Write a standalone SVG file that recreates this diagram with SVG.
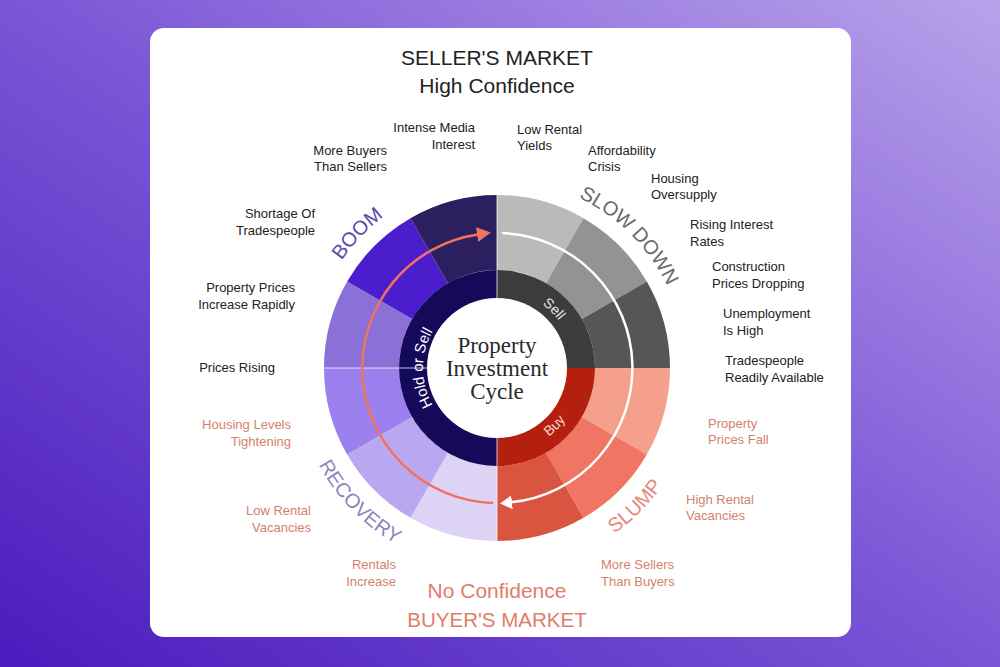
<svg xmlns="http://www.w3.org/2000/svg" width="1000" height="667" viewBox="0 0 1000 667">
<defs>
<linearGradient id="bg" x1="0" y1="1" x2="1" y2="0">
<stop offset="0" stop-color="#4a1bbd"/>
<stop offset="0.5" stop-color="#7a55d6"/>
<stop offset="1" stop-color="#b9a2ea"/>
</linearGradient>
<marker id="ahW" markerWidth="12" markerHeight="14" refX="1" refY="7" orient="auto" markerUnits="userSpaceOnUse"><path d="M0,0 L12,7 L0,14 Z" fill="#ffffff"/></marker>
<marker id="ahC" markerWidth="14" markerHeight="15" refX="1" refY="7.5" orient="auto" markerUnits="userSpaceOnUse"><path d="M0,0 L14,7.5 L0,15 Z" fill="#ee7462"/></marker>
<path id="cwIn" d="M497,446 A78,78 0 0 1 497,290 A78,78 0 0 1 497,446"/>
<path id="cwHold" d="M497,442 A74,74 0 0 1 497,294 A74,74 0 0 1 497,442"/>
<path id="ccwBuy" d="M497,282 A86,86 0 0 0 497,454 A86,86 0 0 0 497,282"/>
<path id="cwOut" d="M497,557 A189,189 0 0 1 497,179 A189,189 0 0 1 497,557"/>
<path id="ccwOut" d="M497,165 A203,203 0 0 0 497,571 A203,203 0 0 0 497,165"/>
<style>
.lbl{font-family:"Liberation Sans",Arial,sans-serif;font-size:13px}
.dk{fill:#222222}
.sa{fill:#d6806e}
.ttl{font-family:"Liberation Sans",Arial,sans-serif;font-size:21px}
.quad{font-family:"Liberation Sans",Arial,sans-serif;font-size:20px}
.ring{font-family:"Liberation Sans",Arial,sans-serif;font-size:14px}
.sep{stroke:#ffffff;stroke-width:1;stroke-opacity:0.75}
</style>
</defs>
<rect x="0" y="0" width="1000" height="667" fill="url(#bg)"/>
<rect id="card" x="150" y="28" width="701" height="609" rx="14" fill="#ffffff"/>

<g id="titles">
<text class="ttl" x="497" y="65" text-anchor="middle" fill="#222">SELLER'S MARKET</text>
<text class="ttl" x="497" y="93" text-anchor="middle" fill="#222">High Confidence</text>
<text class="ttl" x="497" y="598" text-anchor="middle" fill="#e07d69">No Confidence</text>
<text class="ttl" x="497" y="627" text-anchor="middle" fill="#e07d69" style="font-size:20.5px">BUYER'S MARKET</text>
</g>

<g id="wheel-outer">
<path id="seg-slow1" d="M497,195 A173,173 0 0 1 583.5,218.18 L546,283.13 A98,98 0 0 0 497,270 Z" fill="#bababa"/>
<path id="seg-slow2" d="M583.5,218.18 A173,173 0 0 1 646.82,281.5 L581.87,319 A98,98 0 0 0 546,283.13 Z" fill="#939393"/>
<path id="seg-slow3" d="M646.82,281.5 A173,173 0 0 1 670,368 L595,368 A98,98 0 0 0 581.87,319 Z" fill="#565656"/>
<path id="seg-slump1" d="M670,368 A173,173 0 0 1 646.82,454.5 L581.87,417 A98,98 0 0 0 595,368 Z" fill="#f4a08c"/>
<path id="seg-slump2" d="M646.82,454.5 A173,173 0 0 1 583.5,517.82 L546,452.87 A98,98 0 0 0 581.87,417 Z" fill="#f07562"/>
<path id="seg-slump3" d="M583.5,517.82 A173,173 0 0 1 497,541 L497,466 A98,98 0 0 0 546,452.87 Z" fill="#d9553f"/>
<path id="seg-rec1" d="M497,541 A173,173 0 0 1 410.5,517.82 L448,452.87 A98,98 0 0 0 497,466 Z" fill="#ddd4f5"/>
<path id="seg-rec2" d="M410.5,517.82 A173,173 0 0 1 347.18,454.5 L412.13,417 A98,98 0 0 0 448,452.87 Z" fill="#b9a8f0"/>
<path id="seg-rec3" d="M347.18,454.5 A173,173 0 0 1 324,368 L399,368 A98,98 0 0 0 412.13,417 Z" fill="#9b80ee"/>
<path id="seg-boom1" d="M324,368 A173,173 0 0 1 347.18,281.5 L412.13,319 A98,98 0 0 0 399,368 Z" fill="#8a70d7"/>
<path id="seg-boom2" d="M347.18,281.5 A173,173 0 0 1 410.5,218.18 L448,283.13 A98,98 0 0 0 412.13,319 Z" fill="#4b1dcc"/>
<path id="seg-boom3" d="M410.5,218.18 A173,173 0 0 1 497,195 L497,270 A98,98 0 0 0 448,283.13 Z" fill="#2b1f5f"/>
</g>

<g id="wheel-inner">
<path id="ring-sell" d="M497,368 L497,270 A98,98 0 0 1 595,368 Z" fill="#3c3c3c"/>
<path id="ring-buy" d="M497,368 L595,368 A98,98 0 0 1 497,466 Z" fill="#b41f0e"/>
<path id="ring-hold" d="M497,368 L497,466 A98,98 0 0 1 497,270 Z" fill="#150a5a"/>
<line class="sep" x1="497" y1="195" x2="497" y2="300"/>
<line class="sep" x1="497" y1="436" x2="497" y2="541"/>
<line class="sep" x1="324" y1="368" x2="429" y2="368"/>
<circle cx="497" cy="368" r="70" fill="#ffffff"/>
<text class="ring" fill="#e6e6e6"><textPath href="#cwIn" startOffset="62.2%" text-anchor="middle">Sell</textPath></text>
<text class="ring" fill="#f7d2ca"><textPath href="#ccwBuy" startOffset="62.5%" text-anchor="middle">Buy</textPath></text>
<text class="ring" fill="#ffffff" style="font-size:15px"><textPath href="#cwHold" startOffset="25%" text-anchor="middle">Hold or Sell</textPath></text>
</g>

<g id="center">
<text x="497" y="353" text-anchor="middle" font-family="'Liberation Serif',serif" font-size="23" fill="#2a2a2a">Property</text>
<text x="497" y="376" text-anchor="middle" font-family="'Liberation Serif',serif" font-size="23" fill="#2a2a2a">Investment</text>
<text x="497" y="399" text-anchor="middle" font-family="'Liberation Serif',serif" font-size="23" fill="#2a2a2a">Cycle</text>
</g>

<g id="connectors" fill="none" stroke-width="2.5" stroke-linecap="round">
<path id="arrow-sell-buy" d="M503,233.1 A135,135 0 0 1 511,502.3" stroke="#ffffff" marker-end="url(#ahW)"/>
<path id="arrow-buy-hold" d="M492,502.9 A135,135 0 0 1 478,234.4" stroke="#ee7462" marker-end="url(#ahC)"/>
</g>

<g id="quadrant-labels">
<text class="quad" fill="#5b4aa6"><textPath href="#cwOut" startOffset="37.2%" text-anchor="middle">BOOM</textPath></text>
<text class="quad" fill="#6a6a6a"><textPath href="#cwOut" startOffset="59.6%" text-anchor="middle">SLOW</textPath></text>
<text class="quad" fill="#6a6a6a"><textPath href="#cwOut" startOffset="65.2%" text-anchor="middle">DOWN</textPath></text>
<text class="quad" fill="#e28b7a"><textPath href="#ccwOut" startOffset="62.5%" text-anchor="middle">SLUMP</textPath></text>
<text class="quad" fill="#8c84c0"><textPath href="#ccwOut" startOffset="37.3%" text-anchor="middle">RECOVERY</textPath></text>
</g>

<g id="factor-labels">
<g id="f-media" class="lbl dk" text-anchor="end"><text x="475" y="132">Intense Media</text><text x="475" y="149">Interest</text></g>
<g id="f-yields" class="lbl dk"><text x="517" y="134">Low Rental</text><text x="517" y="150">Yields</text></g>
<g id="f-buyers" class="lbl dk" text-anchor="end"><text x="387" y="155">More Buyers</text><text x="387" y="171">Than Sellers</text></g>
<g id="f-afford" class="lbl dk"><text x="588" y="155">Affordability</text><text x="588" y="171">Crisis</text></g>
<g id="f-oversupply" class="lbl dk"><text x="651" y="183">Housing</text><text x="651" y="199">Oversupply</text></g>
<g id="f-shortage" class="lbl dk" text-anchor="end"><text x="315" y="218">Shortage Of</text><text x="315" y="235">Tradespeople</text></g>
<g id="f-rates" class="lbl dk"><text x="690" y="229">Rising Interest</text><text x="690" y="246">Rates</text></g>
<g id="f-rapid" class="lbl dk" text-anchor="end"><text x="295" y="292">Property Prices</text><text x="295" y="309">Increase Rapidly</text></g>
<g id="f-construction" class="lbl dk"><text x="712" y="271">Construction</text><text x="712" y="288">Prices Dropping</text></g>
<g id="f-rising" class="lbl dk" text-anchor="end"><text x="275" y="372">Prices Rising</text></g>
<g id="f-unemployment" class="lbl dk"><text x="723" y="318">Unemployment</text><text x="723" y="335">Is High</text></g>
<g id="f-trades" class="lbl dk"><text x="725" y="365">Tradespeople</text><text x="725" y="382">Readily Available</text></g>
<g id="f-tightening" class="lbl sa" text-anchor="end"><text x="291" y="429">Housing Levels</text><text x="291" y="446">Tightening</text></g>
<g id="f-pricesfall" class="lbl sa"><text x="708" y="428">Property</text><text x="708" y="444">Prices Fall</text></g>
<g id="f-lowvac" class="lbl sa" text-anchor="end"><text x="311" y="515">Low Rental</text><text x="311" y="532">Vacancies</text></g>
<g id="f-highvac" class="lbl sa"><text x="686" y="504">High Rental</text><text x="686" y="520">Vacancies</text></g>
<g id="f-rentals" class="lbl sa" text-anchor="end"><text x="396" y="569">Rentals</text><text x="396" y="586">Increase</text></g>
<g id="f-sellers" class="lbl sa"><text x="601" y="569">More Sellers</text><text x="601" y="586">Than Buyers</text></g>
</g>
</svg>
